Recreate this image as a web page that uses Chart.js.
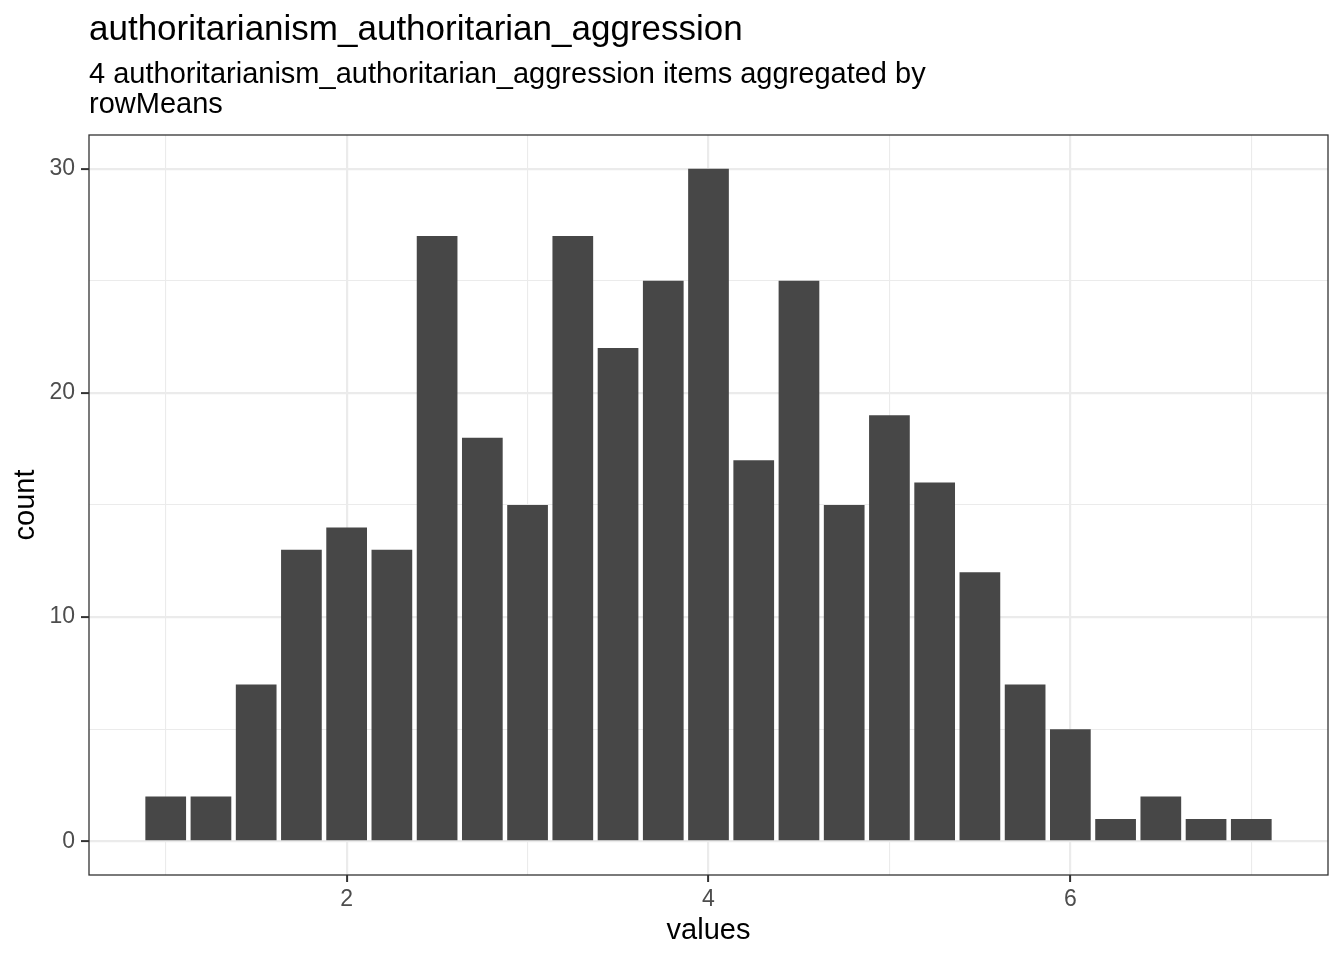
<!DOCTYPE html>
<html>
<head>
<meta charset="utf-8">
<title>authoritarianism_authoritarian_aggression</title>
<script src="https://cdn.jsdelivr.net/npm/chart.js@4.4.1/dist/chart.umd.min.js"></script>
<style>
  html, body { margin: 0; padding: 0; background: #ffffff; }
  #histChart { display: block; }
</style>
</head>
<body>
<canvas id="histChart" width="1344" height="960"></canvas>
<script>
// histogram bins (rowMeans of 4 items, step 0.25) and their counts
const binCenters = [1, 1.25, 1.5, 1.75, 2, 2.25, 2.5, 2.75, 3, 3.25, 3.5, 3.75, 4,
                    4.25, 4.5, 4.75, 5, 5.25, 5.5, 5.75, 6, 6.25, 6.5, 6.75, 7];
const binCounts = [2, 2, 7, 13, 14, 13, 27, 18, 15, 27, 22, 25, 30,
                   17, 25, 15, 19, 16, 12, 7, 5, 1, 2, 1, 1];

const xTickValues = [1, 2, 3, 4, 5, 6, 7];
const xTickLabels = ['', '2', '', '4', '', '6', ''];
const yTickValues = [0, 5, 10, 15, 20, 25, 30];
const yTickLabels = ['0', '', '10', '', '20', '', '30'];

const chartTitle = 'authoritarianism_authoritarian_aggression';
const chartSubtitle = ['4 authoritarianism_authoritarian_aggression items aggregated by', 'rowMeans'];
const xAxisTitle = 'values';
const yAxisTitle = 'count';

document.addEventListener('DOMContentLoaded', function () {
    Chart.defaults.font.family = "'Liberation Sans', Arial, Helvetica, sans-serif";

    const labelFor = (values, labels) => v => {
        const i = values.indexOf(v);
        return i >= 0 ? labels[i] : '';
    };
    const xLabel = labelFor(xTickValues, xTickLabels);
    const yLabel = labelFor(yTickValues, yTickLabels);

    // ggplot-ish titles, left aligned with the panel
    const titlePlugin = {
        id: 'ggTitles',
        afterDraw(chart) {
            const c = chart.ctx;
            const left = chart.chartArea.left;
            c.save();
            c.fillStyle = '#000000';
            c.textAlign = 'left';
            c.textBaseline = 'alphabetic';
            c.font = "35px 'Liberation Sans', Arial, sans-serif";
            c.fillText(chartTitle, left, 40);
            c.font = "29px 'Liberation Sans', Arial, sans-serif";
            chartSubtitle.forEach((line, i) => c.fillText(line, left, 83 + i * 30));
            c.restore();
        }
    };

    // panel border on all four sides
    const borderPlugin = {
        id: 'panelBorder',
        afterDatasetsDraw(chart) {
            const a = chart.chartArea;
            const c = chart.ctx;
            c.save();
            c.strokeStyle = '#333333';
            c.lineWidth = 1.3;
            c.strokeRect(a.left, a.top, a.right - a.left, a.bottom - a.top);
            c.restore();
        }
    };

    const ctx = document.getElementById('histChart').getContext('2d');
    new Chart(ctx, {
        type: 'bar',
        data: {
            datasets: [{
                data: binCenters.map((x, i) => ({ x: x, y: binCounts[i] })),
                backgroundColor: '#474747',
                borderWidth: 0,
                barPercentage: 0.9,
                categoryPercentage: 1.0
            }]
        },
        options: {
            responsive: false,
            animation: false,
            layout: { padding: { top: 135, right: 16, bottom: 0, left: 0 } },
            plugins: {
                legend: { display: false },
                tooltip: { enabled: false }
            },
            scales: {
                x: {
                    type: 'linear',
                    min: 0.576,
                    max: 7.424,
                    offset: false,
                    afterBuildTicks: s => { s.ticks = xTickValues.map(v => ({ value: v })); },
                    afterFit: s => { s.height = 85; },
                    grid: {
                        offset: false,
                        color: '#EBEBEB',
                        lineWidth: c => (c.tick && xLabel(c.tick.value) !== '') ? 2.2 : 1.1,
                        tickLength: 7,
                        tickWidth: 2,
                        tickColor: c => (c.tick && xLabel(c.tick.value) !== '') ? '#333333' : 'rgba(0,0,0,0)'
                    },
                    border: { display: false },
                    ticks: {
                        autoSkip: false,
                        maxRotation: 0,
                        padding: 4,
                        color: '#4D4D4D',
                        font: { size: 23 },
                        callback: v => xLabel(v)
                    },
                    title: {
                        display: true,
                        text: xAxisTitle,
                        color: '#000000',
                        font: { size: 29, lineHeight: 1 },
                        padding: { top: 0, bottom: 15 }
                    }
                },
                y: {
                    type: 'linear',
                    min: -1.5,
                    max: 31.5,
                    afterBuildTicks: s => { s.ticks = yTickValues.map(v => ({ value: v })); },
                    afterFit: s => { s.width = 89; },
                    grid: {
                        color: '#EBEBEB',
                        lineWidth: c => (c.tick && yLabel(c.tick.value) !== '') ? 2.2 : 1.1,
                        tickLength: 8,
                        tickWidth: 2,
                        tickColor: c => (c.tick && yLabel(c.tick.value) !== '') ? '#333333' : 'rgba(0,0,0,0)'
                    },
                    border: { display: false },
                    ticks: {
                        autoSkip: false,
                        padding: 6,
                        color: '#4D4D4D',
                        font: { size: 23 },
                        callback: v => yLabel(v)
                    },
                    title: {
                        display: true,
                        text: yAxisTitle,
                        color: '#000000',
                        font: { size: 29, lineHeight: 1 },
                        padding: { top: 11, bottom: 0 }
                    }
                }
            }
        },
        plugins: [titlePlugin, borderPlugin]
    });
});
</script>
</body>
</html>
